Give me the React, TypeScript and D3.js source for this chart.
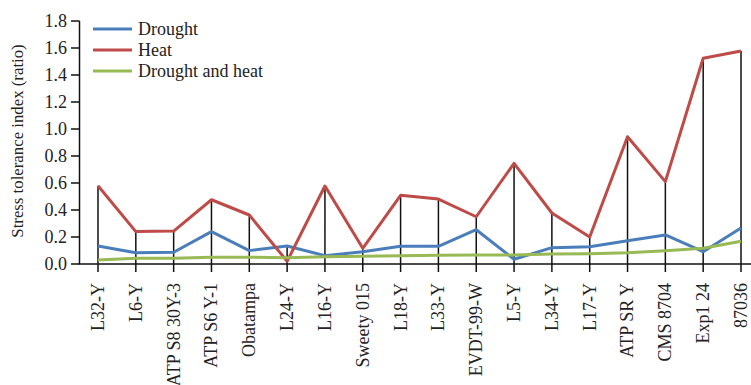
import React from "react";
import * as d3 from "d3";

const categories = [
  "L32-Y", "L6-Y", "ATP S8 30Y-3", "ATP S6 Y-1", "Obatampa", "L24-Y", "L16-Y",
  "Sweety 015", "L18-Y", "L33-Y", "EVDT-99-W", "L5-Y", "L34-Y", "L17-Y",
  "ATP SR Y", "CMS 8704", "Exp1 24", "87036",
];
const drought = [0.133, 0.084, 0.087, 0.24, 0.099, 0.133, 0.062, 0.091, 0.131, 0.131, 0.254, 0.035, 0.121, 0.128, 0.173, 0.215, 0.091, 0.267];
const heat = [0.58, 0.24, 0.244, 0.476, 0.363, 0.02, 0.578, 0.116, 0.509, 0.481, 0.35, 0.746, 0.378, 0.2, 0.943, 0.61, 1.524, 1.578];
const droughtHeat = [0.03, 0.042, 0.042, 0.05, 0.05, 0.047, 0.054, 0.057, 0.062, 0.064, 0.067, 0.067, 0.074, 0.076, 0.084, 0.099, 0.116, 0.168];
const yTicks = [0, 0.2, 0.4, 0.6, 0.8, 1.0, 1.2, 1.4, 1.6, 1.8];
const seriesNames = ["Drought", "Heat", "Drought and heat"];

const colors = ["#4a7ebb", "#be4b48", "#98b954"];
const FONT = "'Liberation Serif', 'Times New Roman', serif";

export default function App() {
  const W = 751;
  const H = 385;
  const axisX = 79.5;
  const x = d3.scalePoint<string>().domain(categories).range([98, 741]);
  const y = d3.scaleLinear().domain([0, 1.8]).range([264, 21]);
  const series = [drought, heat, droughtHeat];
  const line = d3
    .line<number>()
    .x((_, i) => x(categories[i]) as number)
    .y((d) => y(d));

  return (
    <svg
      width={W}
      height={H}
      style={{ position: "absolute", left: 0, top: 0, background: "#fff" }}
      fontFamily={FONT}
    >
      {/* high-low connectors */}
      {categories.map((c, i) => {
        const vals = [drought[i], heat[i], droughtHeat[i]];
        return (
          <line
            key={"hl" + c}
            x1={x(c)}
            x2={x(c)}
            y1={y(d3.max(vals) as number)}
            y2={y(0)}
            stroke="#111"
            strokeWidth={1.5}
          />
        );
      })}

      {/* y axis */}
      <line x1={axisX} x2={axisX} y1={y(1.8)} y2={y(0)} stroke="#111" strokeWidth={1.5} />
      {yTicks.map((t) => (
        <g key={"yt" + t}>
          <line x1={71} x2={axisX} y1={y(t)} y2={y(t)} stroke="#111" strokeWidth={1.5} />
          <text x={67} y={y(t)} dy="0.35em" textAnchor="end" fontSize={18} fill="#222">
            {t.toFixed(1)}
          </text>
        </g>
      ))}
      <text
        transform={`translate(17,141) rotate(-90)`}
        textAnchor="middle"
        dy="0.35em"
        fontSize={16.8}
        fill="#222"
      >
        Stress tolerance index (ratio)
      </text>

      {/* x axis */}
      <line x1={axisX - 0.75} x2={W} y1={y(0)} y2={y(0)} stroke="#111" strokeWidth={1.5} />
      {categories.map((c) => (
        <g key={"xt" + c}>
          <line x1={x(c)} x2={x(c)} y1={y(0)} y2={272} stroke="#111" strokeWidth={1.5} />
          <text
            transform={`translate(${x(c)},283) rotate(-90)`}
            textAnchor="end"
            dy="0.33em"
            fontSize={18}
            fill="#222"
          >
            {c}
          </text>
        </g>
      ))}

      {/* series lines */}
      {series.map((s, k) => (
        <path
          key={"s" + k}
          d={line(s) as string}
          fill="none"
          stroke={colors[k]}
          strokeWidth={3}
          strokeLinejoin="round"
        />
      ))}

      {/* legend */}
      {seriesNames.map((n, k) => {
        const ly = 29 + k * 21;
        return (
          <g key={"lg" + n}>
            <line x1={93} x2={132} y1={ly} y2={ly} stroke={colors[k]} strokeWidth={3} />
            <text x={138} y={ly} dy="0.35em" fontSize={18} fill="#222">
              {n}
            </text>
          </g>
        );
      })}
    </svg>
  );
}
